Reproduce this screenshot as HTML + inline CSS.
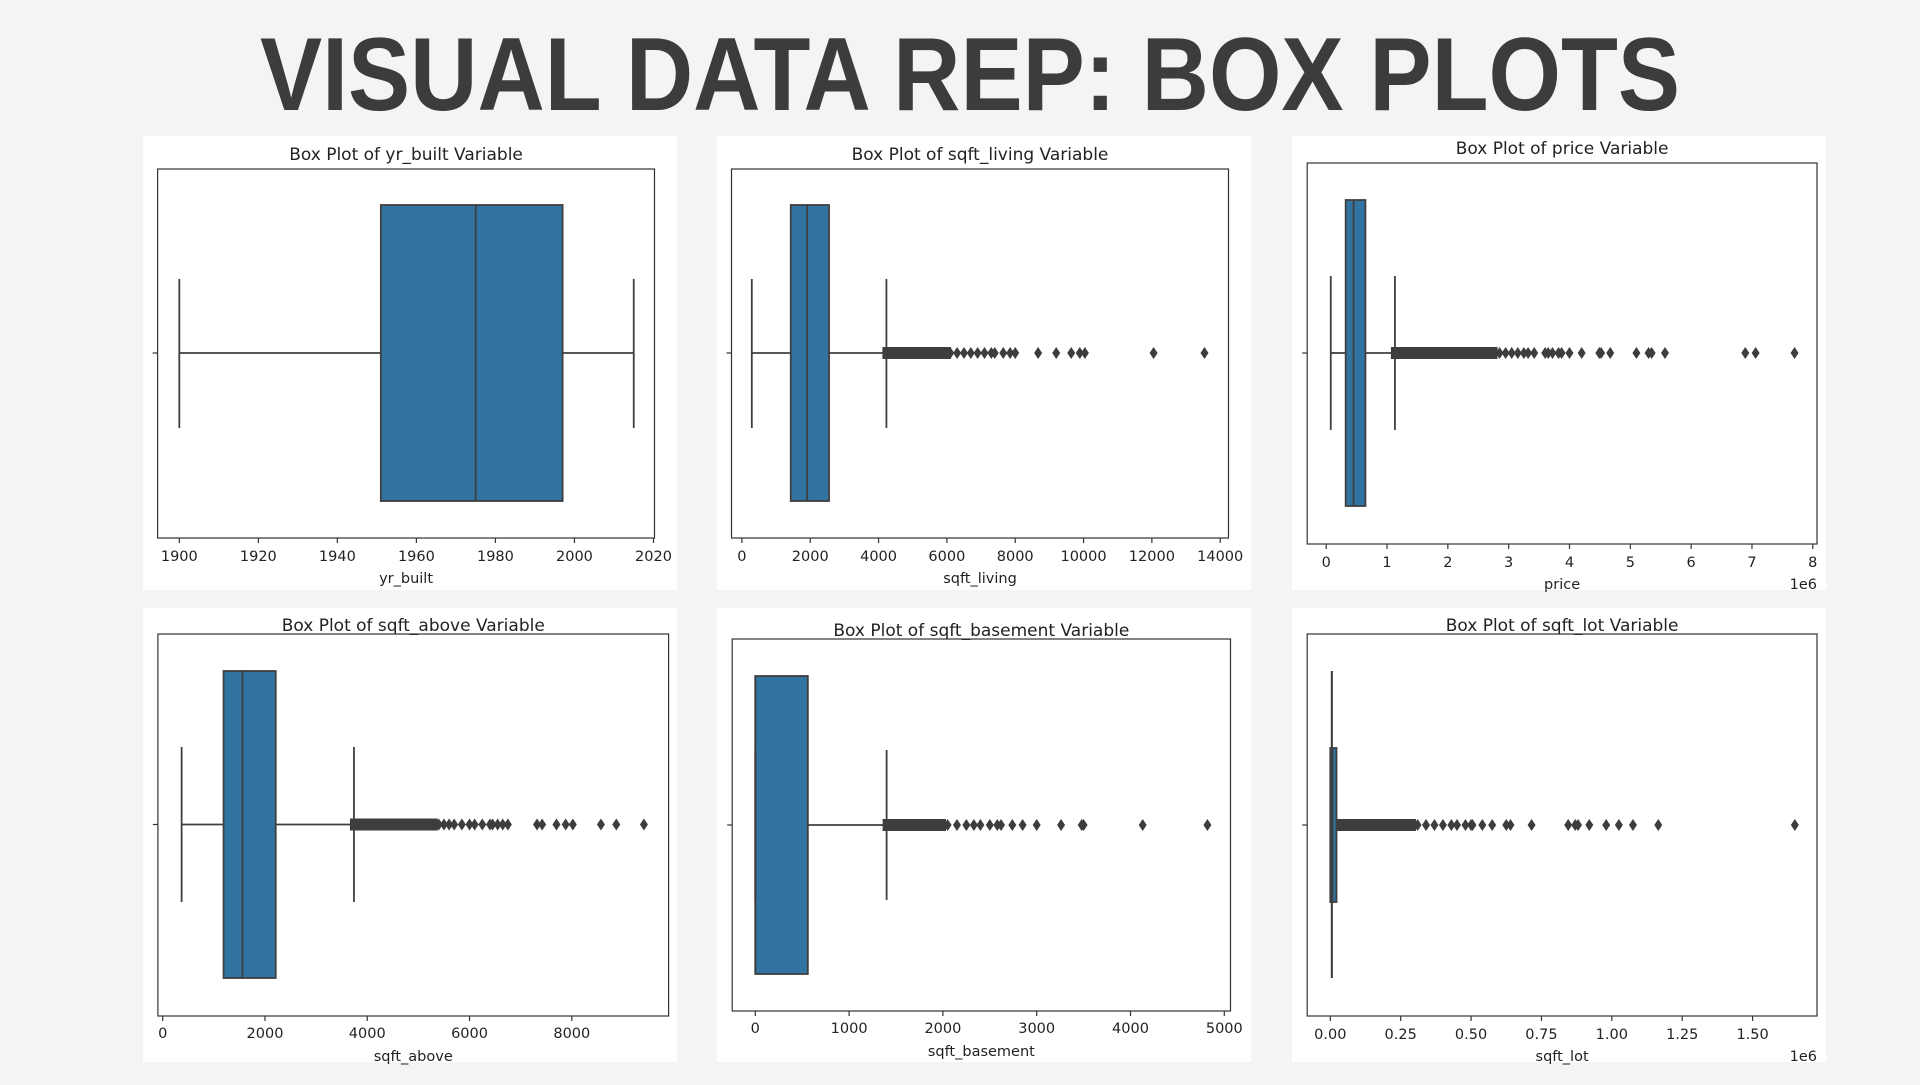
<!DOCTYPE html>
<html><head><meta charset="utf-8">
<style>
html,body{margin:0;padding:0;background:#f4f4f4;}
body{width:1920px;height:1080px;overflow:hidden;font-family:"Liberation Sans",sans-serif;}
svg text{font-family:"DejaVu Sans","Liberation Sans",sans-serif;}
</style></head>
<body>
<svg id="root" width="1920" height="1080" viewBox="0 0 1920 1080" xmlns="http://www.w3.org/2000/svg">
<rect width="1920" height="1080" fill="#f4f4f4"/>
<text x="970" y="110" text-anchor="middle" font-size="104" font-weight="bold" fill="#3c3c3c" textLength="1420" lengthAdjust="spacingAndGlyphs" style="font-family:'Liberation Sans',sans-serif">VISUAL DATA REP: BOX PLOTS</text>
</svg>
<script>
// ---- data ----
const yrStats = [1900, 1951, 1975, 1997, 2015];
const yrTicks = [1900, 1920, 1940, 1960, 1980, 2000, 2020];
const yrDense = [];
const yrOutliers = [];

const livingStats = [290, 1430, 1910, 2550, 4230];
const livingTicks = [0, 2000, 4000, 6000, 8000, 10000, 12000, 14000];
const livingDense = [4230, 6000];
const livingOutliers = [6100, 6300, 6500, 6700, 6900, 7100, 7300, 7400, 7650, 7850, 8000, 8670, 9200, 9640, 9890, 10040, 12050, 13540];

const priceStats = [0.075, 0.32, 0.45, 0.645, 1.13];
const priceTicks = [0, 1, 2, 3, 4, 5, 6, 7, 8];
const priceDense = [1.13, 2.75];
const priceOutliers = [2.85, 2.95, 3.05, 3.15, 3.25, 3.32, 3.42, 3.6, 3.65, 3.72, 3.82, 3.87, 4.0, 4.2, 4.49, 4.52, 4.67, 5.1, 5.3, 5.35, 5.57, 6.89, 7.06, 7.7];

const aboveStats = [370, 1190, 1560, 2210, 3740];
const aboveTicks = [0, 2000, 4000, 6000, 8000];
const aboveDense = [3740, 5300];
const aboveOutliers = [5400, 5500, 5600, 5700, 5850, 6000, 6100, 6250, 6400, 6450, 6550, 6650, 6750, 7320, 7420, 7700, 7880, 8020, 8570, 8870, 9410];

const basementStats = [0, 0, 0, 560, 1400];
const basementTicks = [0, 1000, 2000, 3000, 4000, 5000];
const basementDense = [1400, 1990];
const basementOutliers = [2050, 2150, 2250, 2330, 2400, 2500, 2580, 2620, 2740, 2850, 3000, 3260, 3480, 3500, 4130, 4820];

const lotStats = [0.005, 0.0, 0.0076, 0.022, 0.006];
const lotTicks = [0, 0.25, 0.5, 0.75, 1.0, 1.25, 1.5];
const lotDense = [0.022, 0.29];
const lotOutliers = [0.31, 0.34, 0.37, 0.4, 0.43, 0.45, 0.48, 0.5, 0.505, 0.54, 0.575, 0.625, 0.64, 0.715, 0.845, 0.87, 0.88, 0.92, 0.98, 1.025, 1.075, 1.165, 1.65];

// ---- layout (not data) ----
const NS = "http://www.w3.org/2000/svg";
const root = document.getElementById('root');
function mk(tag, attrs, parent) {
  const e = document.createElementNS(NS, tag);
  for (const k in attrs) e.setAttribute(k, attrs[k]);
  (parent || root).appendChild(e);
  return e;
}

const panels = [
  {key:'yr-built', title:'Box Plot of yr_built Variable', label:'yr_built', stats:yrStats, ticks:yrTicks, dense:yrDense, outl:yrOutliers,
   bg:[143,136,534,454], plot:[157.6,169,654.5,538], t0:[1900,179.3], t1:[2020,653.5], titleY:154, box:[205,501], cap:[279,428], fmt:v=>String(v), tickY:556, labelY:578, sci:null},
  {key:'sqft-living', title:'Box Plot of sqft_living Variable', label:'sqft_living', stats:livingStats, ticks:livingTicks, dense:livingDense, outl:livingOutliers,
   bg:[717,136,534,454], plot:[731.5,169,1228.5,538], t0:[0,741.9], t1:[14000,1220.2], titleY:154, box:[205,501], cap:[279,428], fmt:v=>String(v), tickY:556, labelY:578, sci:null},
  {key:'price', title:'Box Plot of price Variable', label:'price', stats:priceStats, ticks:priceTicks, dense:priceDense, outl:priceOutliers,
   bg:[1292,136,534,454], plot:[1307.2,163,1817,544], t0:[0,1326.2], t1:[8,1812.8], titleY:148, box:[200,506], cap:[276,430], fmt:v=>String(v), tickY:562, labelY:584, sci:'1e6'},
  {key:'sqft-above', title:'Box Plot of sqft_above Variable', label:'sqft_above', stats:aboveStats, ticks:aboveTicks, dense:aboveDense, outl:aboveOutliers,
   bg:[143,608,534,454], plot:[157.9,634,668.6,1016], t0:[0,162.7], t1:[8000,571.8], titleY:625, box:[671,978], cap:[747,902], fmt:v=>String(v), tickY:1033, labelY:1056, sci:null},
  {key:'sqft-basement', title:'Box Plot of sqft_basement Variable', label:'sqft_basement', stats:basementStats, ticks:basementTicks, dense:basementDense, outl:basementOutliers,
   bg:[717,608,534,454], plot:[732.2,639,1230.5,1011], t0:[0,755.3], t1:[5000,1224.3], titleY:630, box:[676,974], cap:[750,900], fmt:v=>String(v), tickY:1028, labelY:1051, sci:null},
  {key:'sqft-lot', title:'Box Plot of sqft_lot Variable', label:'sqft_lot', stats:lotStats, ticks:lotTicks, dense:lotDense, outl:lotOutliers,
   bg:[1292,608,534,454], plot:[1307.2,634,1817,1016], t0:[0,1330.3], t1:[1.5,1752.6], titleY:625, box:[748,902], cap:[671,978], fmt:v=>v.toFixed(2), tickY:1034, labelY:1056, sci:'1e6'}
];

const EDGE = '#3f3f3f';
panels.forEach(p => {
  const g = mk('g', {});
  
  
  const bg = mk('rect', {x:p.bg[0], y:p.bg[1], width:p.bg[2], height:p.bg[3], fill:'#fff'}, g);
  
  
  const [L,T,R,B] = p.plot;
  const sx = v => p.t0[1] + (v - p.t0[0]) * (p.t1[1] - p.t0[1]) / (p.t1[0] - p.t0[0]);
  const cy = (p.box[0] + p.box[1]) / 2;

  const title = mk('text', {x:(L+R)/2, y:p.titleY + 6, 'text-anchor':'middle', 'font-size':17, fill:'#222'}, g);
  title.textContent = p.title;
  
  

  if (p.dense.length === 2) {
    const d = mk('rect', {x:sx(p.dense[0]) - 4, y:cy - 6, width:sx(p.dense[1]) - sx(p.dense[0]) + 8, height:12, fill:'#3d3d3d'}, g);
    
    
  }
  p.outl.forEach(v => {
    const x = sx(v);
    const m = mk('path', {d:`M${x} ${cy-6} L${x+4} ${cy} L${x} ${cy+6} L${x-4} ${cy} Z`, fill:'#3d3d3d'}, g);
    
    
  });

  const [wlo, q1, med, q3, whi] = p.stats;
  const w1 = mk('line', {x1:sx(wlo), y1:cy, x2:sx(q1), y2:cy, stroke:EDGE, 'stroke-width':1.8}, g);
  
  
  const w2 = mk('line', {x1:sx(q3), y1:cy, x2:sx(whi), y2:cy, stroke:EDGE, 'stroke-width':1.8}, g);
  
  
  const bx = mk('rect', {x:sx(q1), y:p.box[0], width:Math.max(sx(q3) - sx(q1), 1), height:p.box[1] - p.box[0], fill:'#3274a1', stroke:EDGE, 'stroke-width':1.8}, g);
  
  
  const md = mk('line', {x1:sx(med), y1:p.box[0], x2:sx(med), y2:p.box[1], stroke:EDGE, 'stroke-width':1.8}, g);
  
  
  [wlo, whi].forEach(v => {
    const c = mk('line', {x1:sx(v), y1:p.cap[0], x2:sx(v), y2:p.cap[1], stroke:EDGE, 'stroke-width':1.8}, g);
    
    
  });

  const fr = mk('rect', {x:L, y:T, width:R - L, height:B - T, fill:'none', stroke:'#333', 'stroke-width':1.2}, g);
  
  
  const yt = mk('line', {x1:L - 5, y1:cy, x2:L, y2:cy, stroke:'#333', 'stroke-width':1.2}, g);
  
  

  p.ticks.forEach(v => {
    const x = sx(v);
    const tk = mk('line', {x1:x, y1:B, x2:x, y2:B + 5, stroke:'#333', 'stroke-width':1.2}, g);
    
    
    const tl = mk('text', {x:x, y:p.tickY + 5, 'text-anchor':'middle', 'font-size':14.5, fill:'#222'}, g);
    tl.textContent = p.fmt(v);
    
    
  });
  const xl = mk('text', {x:(L+R)/2, y:p.labelY + 5, 'text-anchor':'middle', 'font-size':14.5, fill:'#222'}, g);
  xl.textContent = p.label;
  
  
  if (p.sci) {
    const s = mk('text', {x:R, y:p.labelY + 5, 'text-anchor':'end', 'font-size':14.5, fill:'#222'}, g);
    s.textContent = p.sci;
    
    
  }
});
</script>
</body></html>
